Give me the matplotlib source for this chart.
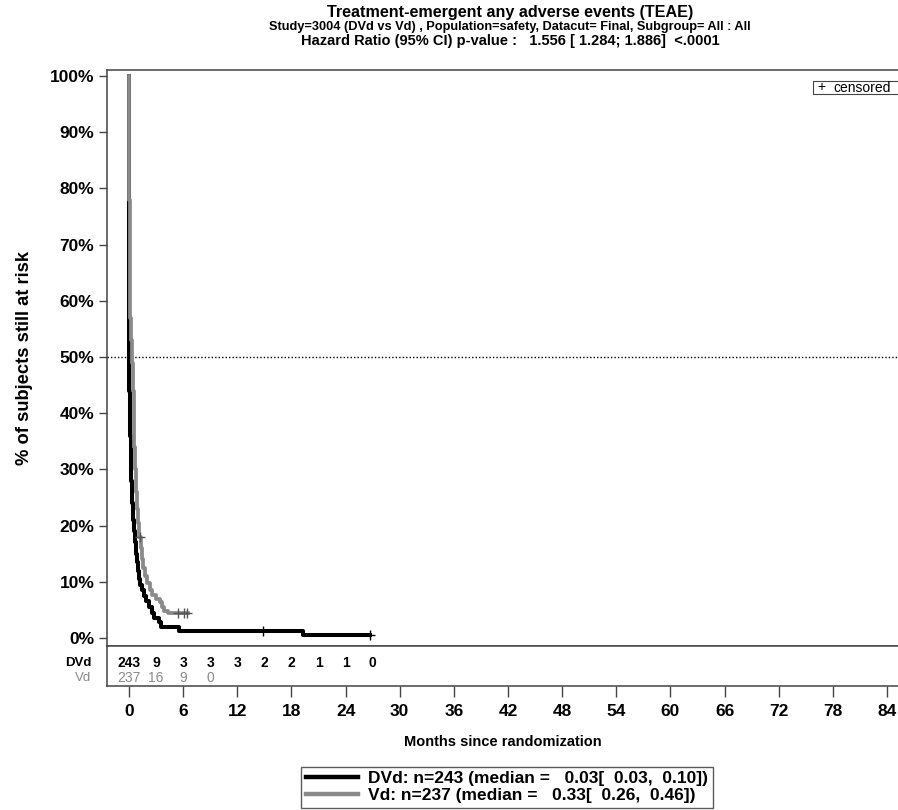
import matplotlib
matplotlib.use("Agg")
import matplotlib.pyplot as plt
from matplotlib.lines import Line2D
from matplotlib.patches import Rectangle

plt.rcParams['font.family'] = ['Liberation Sans', 'DejaVu Sans']

# ---------------- data ----------------
dvd_times = [0.0, 0.01, 0.02, 0.03, 0.05, 0.08, 0.12, 0.18, 0.25, 0.35, 0.45, 0.55,
             0.65, 0.75, 0.85, 0.95, 1.1, 1.25, 1.45, 1.65, 1.9, 2.2, 2.5, 2.8,
             3.3, 3.5, 5.5, 19.3, 26.7]
dvd_surv = [100, 80, 62, 49, 44, 40, 36, 32, 28, 24, 21, 19,
            17, 15, 13.5, 12, 10.5, 9.5, 8.5, 7.5, 6.5, 5.5, 4.5, 3.6,
            2.9, 2.0, 1.25, 0.45, 0.45]
dvd_cens_t = [14.8, 26.7]
dvd_cens_s = [1.25, 0.45]

vd_times = [0.0, 0.01, 0.03, 0.06, 0.1, 0.15, 0.2, 0.33, 0.4, 0.5, 0.6, 0.7, 0.8,
            0.9, 1.0, 1.15, 1.3, 1.45, 1.6, 1.8, 2.0, 2.3, 2.6, 3.0, 3.4, 3.7,
            3.9, 4.3, 6.5]
vd_surv = [100, 88, 78, 70, 63, 57, 53, 49, 44, 38, 34, 30, 26,
           23, 20.5, 18, 16, 14, 12.5, 11, 9.8, 8.5, 7.6, 7.0, 6.4, 5.6,
           4.8, 4.4, 4.4]
vd_cens_t = [1.2, 5.4, 6.1, 6.4]
vd_cens_s = [18, 4.4, 4.4, 4.4]

risk_times_dvd = [0, 3, 6, 9, 12, 15, 18, 21, 24, 27]
risk_dvd = [243, 9, 3, 3, 3, 2, 2, 1, 1, 0]
risk_times_vd = [0, 3, 6, 9]
risk_vd = [237, 16, 9, 0]

x_ticks = list(range(0, 85, 6))
y_ticks = list(range(0, 101, 10))

title1 = "Treatment-emergent any adverse events (TEAE)"
title2 = "Study=3004 (DVd vs Vd) , Population=safety, Datacut= Final, Subgroup= All : All"
title3 = "Hazard Ratio (95% CI) p-value :   1.556 [ 1.284; 1.886]  <.0001"
leg_dvd = "DVd: n=243 (median =   0.03[  0.03,  0.10])"
leg_vd = "Vd: n=237 (median =   0.33[  0.26,  0.46])"

# ---------------- figure ----------------
W, H = 898, 810
fig = plt.figure(figsize=(W / 100, H / 100), dpi=100)

def fx(px):
    return px / W

def fy(py):
    return 1 - py / H

BLACK = '#000000'
GRAY = '#8a8a8a'
SPINE = '#444444'

ax = fig.add_axes([fx(107), fy(646), fx(898) - fx(107), fy(70) - fy(646)])
ax.set_xlim(-2.44, 85.22)
ax.set_ylim(-1.42, 101.07)

ax.step(dvd_times, dvd_surv, where='post', color=BLACK, lw=2.9, zorder=3)
ax.step(vd_times, vd_surv, where='post', color=GRAY, lw=2.7, zorder=4)
ax.plot(dvd_cens_t, dvd_cens_s, ls='none', marker='+', ms=7, mew=1.0, color=BLACK, zorder=5)
ax.plot(vd_cens_t, vd_cens_s, ls='none', marker='+', ms=7, mew=1.0, color='#555555', zorder=5)

ax.axhline(50, color=BLACK, lw=1.0, ls=(0, (1, 1.5)), zorder=2)

ax.set_xticks([])
ax.set_yticks(y_ticks)
ax.set_yticklabels([f"{v}%" for v in y_ticks], fontsize=12.5, fontweight='bold')
ax.tick_params(axis='y', direction='out', length=6, width=1, color=SPINE, pad=3)
for s in ['left', 'top', 'bottom']:
    ax.spines[s].set_color(SPINE)
    ax.spines[s].set_linewidth(1.1)
ax.spines['right'].set_visible(False)

ax.set_ylabel("% of subjects still at risk", fontsize=13.2, fontweight='bold', labelpad=12)

# censored legend box
fig.add_artist(Rectangle((fx(813), fy(94)), fx(100), fy(81) - fy(94),
                         transform=fig.transFigure, fc='white', ec=SPINE, lw=0.8))
fig.text(fx(817), fy(87.5), "+", ha='left', va='center', fontsize=10)
fig.text(fx(833), fy(87.5), "censored", ha='left', va='center', fontsize=10)

# ---------------- risk table ----------------
axr = fig.add_axes([fx(107), fy(686), fx(898) - fx(107), fy(646) - fy(686)])
axr.set_xlim(-2.44, 85.22)
axr.set_ylim(0, 1)
axr.set_yticks([])
axr.set_xticks(x_ticks)
axr.set_xticklabels([str(v) for v in x_ticks], fontsize=12.5, fontweight='bold')
axr.tick_params(axis='x', direction='out', length=8, width=1, color=SPINE, pad=5)
for s in ['left', 'top', 'bottom']:
    axr.spines[s].set_color(SPINE)
    axr.spines[s].set_linewidth(1.1)
axr.spines['right'].set_visible(False)

for t, n in zip(risk_times_dvd, risk_dvd):
    axr.text(t, 0.575, str(n), ha='center', va='center', fontsize=10,
             fontweight='bold', color=BLACK)
for t, n in zip(risk_times_vd, risk_vd):
    axr.text(t, 0.2, str(n), ha='center', va='center', fontsize=10, color=GRAY)
axr.text(-0.02, 0.575, "DVd", transform=axr.transAxes, ha='right', va='center',
         fontsize=9.5, fontweight='bold', color=BLACK)
axr.text(-0.02, 0.2, "Vd", transform=axr.transAxes, ha='right', va='center',
         fontsize=9.5, color=GRAY)

axr.set_xlabel("Months since randomization", fontsize=10.5, fontweight='bold', labelpad=11.5)

# ---------------- titles ----------------
cx = fx(510)
fig.text(cx, fy(13), title1, ha='center', va='center', fontsize=11.6, fontweight='bold')
fig.text(cx, fy(27), title2, ha='center', va='center', fontsize=9.2, fontweight='bold')
fig.text(cx, fy(41), title3, ha='center', va='center', fontsize=10.5, fontweight='bold')

# ---------------- bottom legend ----------------
handles = [Line2D([0], [0], color=BLACK, lw=3.2), Line2D([0], [0], color=GRAY, lw=3.2)]
leg = fig.legend(handles, [leg_dvd, leg_vd], loc='upper center',
                 bbox_to_anchor=(fx(507), fy(767)), frameon=True, fancybox=False,
                 edgecolor='#333333', prop={'weight': 'bold', 'size': 12.5},
                 handlelength=3.0, handletextpad=0.6, borderpad=0.25, labelspacing=0.1,
                 borderaxespad=0)
leg.get_frame().set_linewidth(1.0)

fig.savefig("out.png", dpi=100)
